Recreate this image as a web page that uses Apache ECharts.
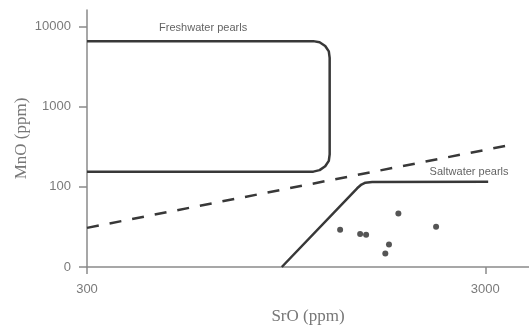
<!DOCTYPE html>
<html><head><meta charset="utf-8">
<script src="https://cdn.jsdelivr.net/npm/echarts@6/dist/echarts.min.js"></script>
<style>html,body{margin:0;padding:0;background:#fff}#c{width:529px;height:336px}</style>
</head><body><div id="c"></div><script>
// Axis ticks (SrO on x, MnO on y, both logarithmic)
const xTicks = [300, 3000];
const xTickLabels = ['300', '3000'];
const yTicks = [10, 100, 1000, 10000];
const yTickLabels = ['0', '100', '1000', '10000'];
const xRange = [300, 3862];
const yRange = [10, 16150];

// Freshwater pearls field outline (SrO ppm, MnO ppm)
const freshwaterOutline = [
  [300, 6600], [1110, 6600], [1151, 6391], [1189, 5741], [1214, 4909], [1220, 4074],
  [1220, 255], [1214, 211], [1189, 181], [1151, 162], [1110, 155], [300, 155]
];
// Saltwater pearls field boundary
const saltwaterBoundary = [
  [925, 10], [1430, 96], [1466, 107], [1500, 113], [1560, 115], [3050, 116]
];
// Dashed dividing line
const dividerLine = [[300, 30.8], [3500, 337]];
// Sample points
const samples = [
  [1296, 29.1], [1455, 25.9], [1506, 25.2], [1815, 46.4],
  [1719, 19.1], [1683, 14.7], [2257, 31.7]
];
// Field labels
const regionLabelNames = ['Freshwater pearls', 'Saltwater pearls'];
const regionLabelPos = [[587, 9640], [2731, 152]];

const chart = echarts.init(document.getElementById('c'), null, {renderer: 'canvas'});
const axisColor = '#8a8a8a';
const lineColor = '#383838';
const tickFont = {color: '#7a7a7a', fontSize: 13, fontFamily: 'Liberation Sans, Arial, sans-serif'};

chart.setOption({
  backgroundColor: '#ffffff',
  animation: false,
  grid: {left: 87, right: 0, top: 10, bottom: 69, containLabel: false},
  xAxis: {
    type: 'log', logBase: 10, min: xRange[0], max: xRange[1],
    name: 'SrO (ppm)', nameLocation: 'middle', nameGap: 41, nameMoveOverlap: false,
    nameTextStyle: {color: '#777', fontSize: 17, fontFamily: 'Liberation Serif, serif'},
    axisLine: {show: true, lineStyle: {color: axisColor, width: 1.5}},
    axisTick: {show: true, inside: false, length: 7, customValues: xTicks, lineStyle: {color: axisColor, width: 1.5}},
    axisLabel: Object.assign({show: true, margin: 16, customValues: xTicks,
      formatter: v => { const i = xTicks.findIndex(t => Math.abs(t - v) / t < 1e-6); return i >= 0 ? xTickLabels[i] : ''; }
    }, tickFont),
    splitLine: {show: false}, minorTick: {show: false}, minorSplitLine: {show: false}
  },
  yAxis: {
    type: 'log', logBase: 10, min: yRange[0], max: yRange[1],
    name: 'MnO (ppm)', nameLocation: 'middle', nameGap: 57, nameRotate: 90, nameMoveOverlap: false,
    nameTextStyle: {color: '#777', fontSize: 17, fontFamily: 'Liberation Serif, serif'},
    axisLine: {show: true, lineStyle: {color: axisColor, width: 1.5}},
    axisTick: {show: true, inside: false, length: 8, customValues: yTicks, lineStyle: {color: axisColor, width: 1.5}},
    axisLabel: Object.assign({show: true, margin: 16, customValues: yTicks,
      formatter: v => { const i = yTicks.findIndex(t => Math.abs(t - v) / t < 1e-6); return i >= 0 ? yTickLabels[i] : ''; }
    }, tickFont),
    splitLine: {show: false}, minorTick: {show: false}, minorSplitLine: {show: false}
  },
  series: [
    {
      type: 'line', data: freshwaterOutline, showSymbol: false, symbol: 'none',
      lineStyle: {color: lineColor, width: 2.5, join: 'round'}, silent: true
    },
    {
      type: 'line', data: saltwaterBoundary, showSymbol: false, symbol: 'none',
      lineStyle: {color: lineColor, width: 2.5, join: 'round'}, silent: true
    },
    {
      type: 'line', data: dividerLine, showSymbol: false, symbol: 'none',
      lineStyle: {color: lineColor, width: 2.5, type: [12, 11]}, silent: true
    },
    {
      type: 'scatter', data: samples, symbol: 'circle', symbolSize: 6,
      itemStyle: {color: '#2a2a2a'}, silent: true
    },
    {
      type: 'scatter', symbolSize: 0, silent: true,
      data: regionLabelNames.map((n, i) => ({name: n, value: regionLabelPos[i]})),
      label: {show: true, position: 'inside', formatter: p => p.name, color: '#3a3a3a',
        fontSize: 11, fontFamily: 'Liberation Sans, Arial, sans-serif'}
    }
  ]
});
</script></body></html>
